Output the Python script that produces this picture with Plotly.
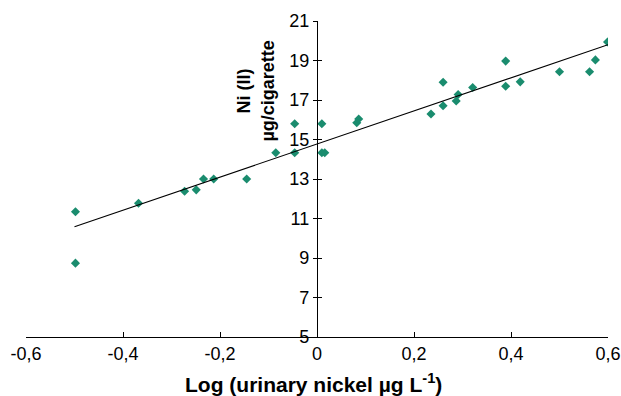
import plotly.graph_objects as go

# Data
log_urinary_ni = [-0.498, -0.498, -0.368, -0.273, -0.249, -0.234, -0.213, -0.145,
                  -0.085, -0.046, -0.046, 0.010, 0.010, 0.016, 0.082, 0.086,
                  0.235, 0.260, 0.260, 0.287, 0.291, 0.321, 0.389, 0.389,
                  0.419, 0.500, 0.562, 0.574, 0.599]
ni_per_cigarette = [11.34, 8.74, 11.77, 12.38, 12.45, 13.0, 13.0, 13.0,
                    14.33, 15.8, 14.33, 15.8, 14.33, 14.33, 15.85, 16.04,
                    16.29, 16.71, 17.9, 16.95, 17.28, 17.63, 18.97, 17.70,
                    17.92, 18.43, 18.43, 19.03, 19.94]
trend_x = [-0.5, 0.6]
trend_y = [10.58, 19.80]

x_ticks = [-0.6, -0.4, -0.2, 0, 0.2, 0.4, 0.6]
x_tick_labels = ["-0,6", "-0,4", "-0,2", "0", "0,2", "0,4", "0,6"]
y_ticks = [5, 7, 9, 11, 13, 15, 17, 19, 21]

FONT = "Liberation Sans, Arial, sans-serif"

fig = go.Figure()
fig.add_trace(go.Scatter(
    x=log_urinary_ni, y=ni_per_cigarette, mode="markers",
    marker=dict(symbol="diamond", size=7, color="#1a8c6e"),
    showlegend=False, hoverinfo="skip"))
fig.add_trace(go.Scatter(
    x=trend_x, y=trend_y, mode="lines",
    line=dict(color="black", width=1.1),
    showlegend=False, hoverinfo="skip", yaxis="y2"))

fig.update_layout(
    width=621, height=396,
    margin=dict(l=26, r=13, t=21, b=59),
    paper_bgcolor="white", plot_bgcolor="white",
    font=dict(family=FONT, size=18, color="black"),
    xaxis=dict(range=[-0.6, 0.6], tickvals=x_ticks, ticktext=x_tick_labels,
               automargin=False,
               showgrid=False, zeroline=False, showline=True,
               linecolor="black", linewidth=1.3,
               ticks="inside", ticklen=5, tickwidth=1.3, tickcolor="black",
               tickfont=dict(size=18)),
    yaxis=dict(range=[5, 21], tickvals=y_ticks, automargin=False,
               showgrid=False, zeroline=False, showline=True,
               linecolor="black", linewidth=1.3,
               anchor="free", position=0.5,
               ticks="outside", ticklen=4, tickwidth=1.3, tickcolor="black",
               tickfont=dict(size=18)),
    yaxis2=dict(range=[5, 21], tickvals=y_ticks, overlaying="y",
                anchor="free", position=0.5, side="left", automargin=False,
                showgrid=False, zeroline=False, showline=False,
                showticklabels=False,
                ticks="inside", ticklen=4, tickwidth=1.3, tickcolor="black"),
    annotations=[
        dict(text="<b>Ni (II)<br>µg/cigarette</b>", x=-0.126, y=17.47,
             xref="x", yref="y", textangle=-90, showarrow=False,
             xanchor="center", yanchor="middle",
             font=dict(size=18, family=FONT)),
        dict(text="<b>Log (urinary nickel µg L<sup>-1</sup>)</b>",
             x=0.4948, y=-0.146, xref="paper", yref="paper",
             showarrow=False, xanchor="center", yanchor="middle",
             font=dict(size=21, family=FONT)),
    ],
)

fig.write_html("out.html")
